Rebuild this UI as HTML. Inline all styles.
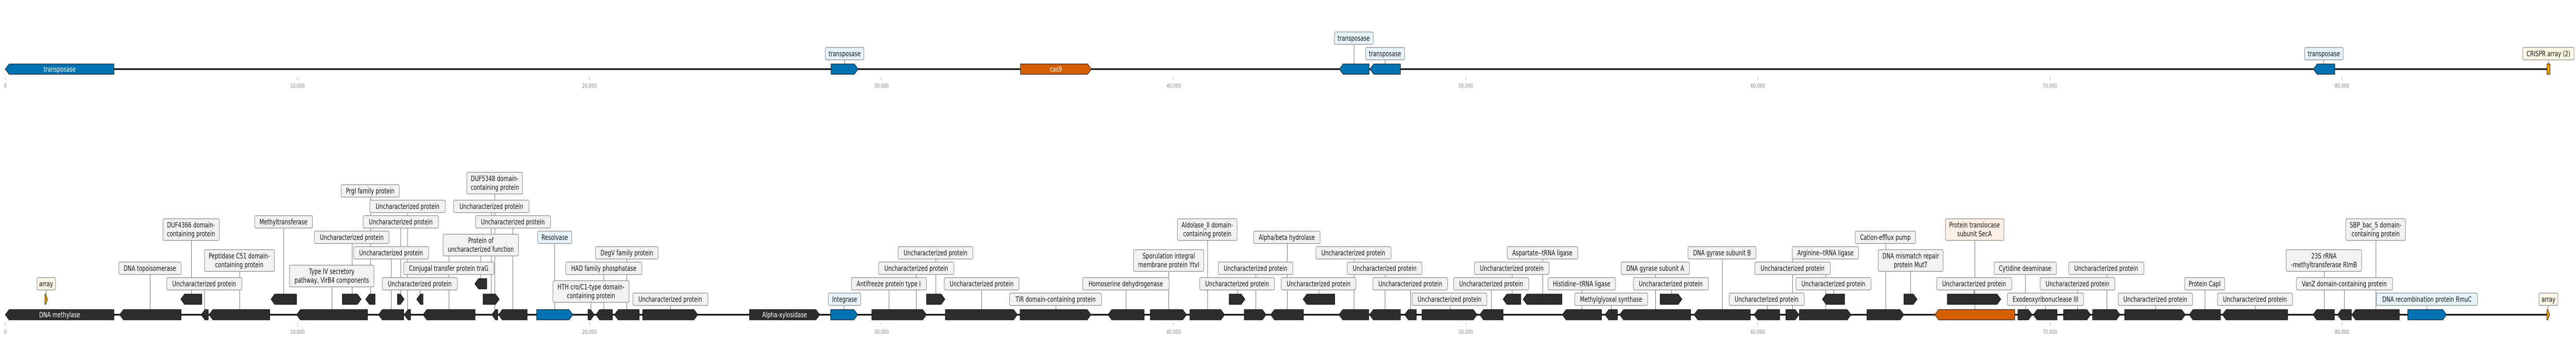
<!DOCTYPE html>
<html><head><meta charset="utf-8"><style>
html,body{margin:0;padding:0;background:#fff;width:100%;height:100%;overflow:hidden;}
svg{display:block;position:absolute;left:0;top:0;width:100vw;height:100vh;}
.g{fill:#2e2e2e;stroke:#000;stroke-width:1;}
.b{fill:#0072b2;stroke:#000;stroke-width:1;}
.o{fill:#d55e00;stroke:#000;stroke-width:1;}
.a{fill:#e69f00;stroke:#000;stroke-width:1;}
.bx{fill:#f2f2f2;stroke:#999;stroke-width:1.5;}
.lb{fill:#e6f5fc;stroke:#999;stroke-width:1.5;}
.cr{fill:#fdf7e6;stroke:#999;stroke-width:1.5;}
.pc{fill:#fdefe4;stroke:#999;stroke-width:1.5;}
text{font-family:"DejaVu Sans","Liberation Sans",sans-serif;}
.t{font-size:14px;fill:#111;text-anchor:middle;}
.w{font-size:14px;fill:#fff;text-anchor:middle;}
.ax{font-size:11px;fill:#888;text-anchor:middle;}
.ln{stroke:#444;stroke-width:1;fill:none;}
.tk{stroke:#888;stroke-width:1;}
</style></head><body>
<svg width="100%" height="100%" viewBox="0 0 6826 659" preserveAspectRatio="none" xmlns="http://www.w3.org/2000/svg" overflow="hidden">
<!-- TOP TRACK -->
<line x1="14" y1="134" x2="6757" y2="134" stroke="#000" stroke-width="3"/>
<g class="tk">
<line x1="14" y1="150" x2="14" y2="155"/><line x1="788" y1="150" x2="788" y2="155"/><line x1="1562" y1="150" x2="1562" y2="155"/><line x1="2336" y1="150" x2="2336" y2="155"/><line x1="3110" y1="150" x2="3110" y2="155"/><line x1="3884" y1="150" x2="3884" y2="155"/><line x1="4658" y1="150" x2="4658" y2="155"/><line x1="5432" y1="150" x2="5432" y2="155"/><line x1="6206" y1="150" x2="6206" y2="155"/>
</g>
<g class="ax">
<text x="14" y="170">0</text><text x="788" y="170">10,000</text><text x="1562" y="170">20,000</text><text x="2336" y="170">30,000</text><text x="3110" y="170">40,000</text><text x="3884" y="170">50,000</text><text x="4658" y="170">60,000</text><text x="5432" y="170">70,000</text><text x="6206" y="170">80,000</text>
</g>
<g class="ln"><path d="M2238 124V117M3588 124V86M3670 124V117M6158 124V117M6753 124V117"/></g>
<rect class="lb" x="2187" y="92" width="102" height="24" rx="3"/><text class="t" x="2238" y="109">transposase</text>
<rect class="lb" x="3536" y="62" width="103" height="24" rx="3"/><text class="t" x="3587" y="79">transposase</text>
<rect class="lb" x="3619" y="92" width="103" height="24" rx="3"/><text class="t" x="3670" y="109">transposase</text>
<rect class="lb" x="6107" y="92" width="102" height="24" rx="3"/><text class="t" x="6158" y="109">transposase</text>
<rect class="cr" x="6685" y="92" width="136" height="24" rx="3"/><text class="t" x="6753" y="109">CRISPR array (2)</text>
<polygon class="b" points="14,134 24,124 302,124 302,144 24,144"/><text class="w" x="158" y="139">transposase</text>
<polygon class="b" points="2202,124 2264,124 2274,134 2264,144 2202,144"/>
<polygon class="o" points="2704,124 2882,124 2892,134 2882,144 2704,144"/><text class="w" x="2798" y="139">cas9</text>
<polygon class="b" points="3549,134 3559,124 3628,124 3628,144 3559,144"/>
<polygon class="b" points="3630,134 3640,124 3711,124 3711,144 3640,144"/>
<polygon class="b" points="6130,134 6140,124 6187,124 6187,144 6140,144"/>
<rect class="a" x="6749" y="124" width="8" height="20"/>

<!-- BOTTOM TRACK -->
<line x1="14" y1="610" x2="6755" y2="610" stroke="#000" stroke-width="3"/>
<g class="tk">
<line x1="14" y1="625" x2="14" y2="630"/><line x1="788" y1="625" x2="788" y2="630"/><line x1="1562" y1="625" x2="1562" y2="630"/><line x1="2336" y1="625" x2="2336" y2="630"/><line x1="3110" y1="625" x2="3110" y2="630"/><line x1="3884" y1="625" x2="3884" y2="630"/><line x1="4658" y1="625" x2="4658" y2="630"/><line x1="5432" y1="625" x2="5432" y2="630"/><line x1="6206" y1="625" x2="6206" y2="630"/>
</g>
<g class="ax">
<text x="14" y="647">0</text><text x="788" y="647">10,000</text><text x="1562" y="647">20,000</text><text x="2336" y="647">30,000</text><text x="3110" y="647">40,000</text><text x="3884" y="647">50,000</text><text x="4658" y="647">60,000</text><text x="5432" y="647">70,000</text><text x="6206" y="647">80,000</text>
</g>
<g class="ln"><path d="M398 600V532M542 600V562M635 600V526M122 570V562M507 570V466M752 570V442M880 600V556M933 570V472M982 570V382M1037 600V502M1062 570V442M1080 600V412M1113 570V562M1190 600V496M1274 540V496M1302 570V412M1311 600V376M1359 600V442M1470 600V472M1566 600V586M1600 600V532M1661 600V502M1777 600V592M2237 600V592M2356 600V562M2428 600V532M2480 570V502M2601 600V562M2798 600V592M2984 600V562M3097 600V526M3200 600V466M3279 570V562M3328 600V532M3411 600V472M3495 570V562M3588 600V502M3670 600V532M3738 600V562M3843 600V592M3952 600V562M4007 570V532M4088 570V502M4192 600V562M4270 600V592M4387 600V532M4429 570V562M4564 600V502M4683 600V592M4750 600V502M4838 600V532M4859 570V562M4997 600V472M5063 570V526M5233 600V466M5231 570V562M5367 600V532M5420 600V592M5505 600V562M5583 600V532M5712 600V592M5843 600V562M5976 600V592M6159 600V526M6212 600V562M6296 600V466M6431 600V592M6752 600V592"/></g>

<!-- label boxes -->
<rect class="bx" x="315" y="508" width="165" height="24" rx="3"/><text class="t" x="397" y="525">DNA topoisomerase</text>
<rect class="bx" x="442" y="538" width="199" height="24" rx="3"/><text class="t" x="541" y="555">Uncharacterized protein</text>
<rect class="bx" x="542" y="484" width="185" height="42" rx="3"/><text class="t" x="634" y="501">Peptidase C51 domain-</text><text class="t" x="634" y="518">containing protein</text>
<rect class="cr" x="98" y="538" width="49" height="24" rx="3"/><text class="t" x="122" y="555">array</text>
<rect class="bx" x="432" y="424" width="149" height="42" rx="3"/><text class="t" x="506" y="441">DUF4366 domain-</text><text class="t" x="506" y="458">containing protein</text>
<rect class="bx" x="675" y="418" width="153" height="24" rx="3"/><text class="t" x="751" y="435">Methyltransferase</text>
<rect class="bx" x="767" y="514" width="224" height="42" rx="3"/><text class="t" x="879" y="531">Type IV secretory</text><text class="t" x="879" y="548">pathway, VirB4 components</text>
<rect class="bx" x="833" y="448" width="198" height="24" rx="3"/><text class="t" x="932" y="465">Uncharacterized protein</text>
<rect class="bx" x="904" y="358" width="154" height="24" rx="3"/><text class="t" x="981" y="375">PrgI family protein</text>
<rect class="bx" x="937" y="478" width="199" height="24" rx="3"/><text class="t" x="1036" y="495">Uncharacterized protein</text>
<rect class="bx" x="962" y="418" width="200" height="24" rx="3"/><text class="t" x="1062" y="435">Uncharacterized protein</text>
<rect class="bx" x="980" y="388" width="200" height="24" rx="3"/><text class="t" x="1080" y="405">Uncharacterized protein</text>
<rect class="bx" x="1013" y="538" width="199" height="24" rx="3"/><text class="t" x="1112" y="555">Uncharacterized protein</text>
<rect class="bx" x="1070" y="508" width="239" height="24" rx="3"/><text class="t" x="1189" y="525">Conjugal transfer protein traG</text>
<rect class="bx" x="1174" y="454" width="200" height="42" rx="3"/><text class="t" x="1274" y="471">Protein of</text><text class="t" x="1274" y="488">uncharacterized function</text>
<rect class="bx" x="1202" y="388" width="200" height="24" rx="3"/><text class="t" x="1302" y="405">Uncharacterized protein</text>
<rect class="bx" x="1237" y="334" width="148" height="42" rx="3"/><text class="t" x="1311" y="351">DUF5348 domain-</text><text class="t" x="1311" y="368">containing protein</text>
<rect class="bx" x="1260" y="418" width="199" height="24" rx="3"/><text class="t" x="1359" y="435">Uncharacterized protein</text>
<rect class="lb" x="1425" y="448" width="90" height="24" rx="3"/><text class="t" x="1470" y="465">Resolvase</text>
<rect class="bx" x="1465" y="544" width="202" height="42" rx="3"/><text class="t" x="1566" y="561">HTH cro/C1-type domain-</text><text class="t" x="1566" y="578">containing protein</text>
<rect class="bx" x="1499" y="508" width="202" height="24" rx="3"/><text class="t" x="1600" y="525">HAD family phosphatase</text>
<rect class="bx" x="1578" y="478" width="166" height="24" rx="3"/><text class="t" x="1661" y="495">DegV family protein</text>
<rect class="bx" x="1677" y="568" width="199" height="24" rx="3"/><text class="t" x="1776" y="585">Uncharacterized protein</text>
<rect class="lb" x="2195" y="568" width="86" height="24" rx="3"/><text class="t" x="2238" y="585">Integrase</text>
<rect class="bx" x="2256" y="538" width="199" height="24" rx="3"/><text class="t" x="2355" y="555">Antifreeze protein type I</text>
<rect class="bx" x="2328" y="508" width="200" height="24" rx="3"/><text class="t" x="2428" y="525">Uncharacterized protein</text>
<rect class="bx" x="2380" y="478" width="198" height="24" rx="3"/><text class="t" x="2479" y="495">Uncharacterized protein</text>
<rect class="bx" x="2502" y="538" width="198" height="24" rx="3"/><text class="t" x="2601" y="555">Uncharacterized protein</text>
<rect class="bx" x="2675" y="568" width="244" height="24" rx="3"/><text class="t" x="2797" y="585">TIR domain-containing protein</text>
<rect class="bx" x="2869" y="538" width="229" height="24" rx="3"/><text class="t" x="2983" y="555">Homoserine dehydrogenase</text>
<rect class="bx" x="3004" y="484" width="186" height="42" rx="3"/><text class="t" x="3097" y="501">Sporulation integral</text><text class="t" x="3097" y="518">membrane protein YtvI</text>
<rect class="bx" x="3120" y="424" width="158" height="42" rx="3"/><text class="t" x="3199" y="441">Aldolase_II domain-</text><text class="t" x="3199" y="458">containing protein</text>
<rect class="bx" x="3179" y="538" width="198" height="24" rx="3"/><text class="t" x="3278" y="555">Uncharacterized protein</text>
<rect class="bx" x="3228" y="508" width="198" height="24" rx="3"/><text class="t" x="3327" y="525">Uncharacterized protein</text>
<rect class="bx" x="3322" y="448" width="176" height="24" rx="3"/><text class="t" x="3410" y="465">Alpha/beta hydrolase</text>
<rect class="bx" x="3395" y="538" width="198" height="24" rx="3"/><text class="t" x="3494" y="555">Uncharacterized protein</text>
<rect class="bx" x="3487" y="478" width="199" height="24" rx="3"/><text class="t" x="3586" y="495">Uncharacterized protein</text>
<rect class="bx" x="3570" y="508" width="198" height="24" rx="3"/><text class="t" x="3669" y="525">Uncharacterized protein</text>
<rect class="bx" x="3638" y="538" width="198" height="24" rx="3"/><text class="t" x="3737" y="555">Uncharacterized protein</text>
<rect class="bx" x="3742" y="568" width="198" height="24" rx="3"/><text class="t" x="3841" y="585">Uncharacterized protein</text>
<rect class="bx" x="3852" y="538" width="199" height="24" rx="3"/><text class="t" x="3951" y="555">Uncharacterized protein</text>
<rect class="bx" x="3907" y="508" width="198" height="24" rx="3"/><text class="t" x="4006" y="525">Uncharacterized protein</text>
<rect class="bx" x="3994" y="478" width="187" height="24" rx="3"/><text class="t" x="4087" y="495">Aspartate--tRNA ligase</text>
<rect class="bx" x="4102" y="538" width="179" height="24" rx="3"/><text class="t" x="4191" y="555">Histidine--tRNA ligase</text>
<rect class="bx" x="4173" y="568" width="193" height="24" rx="3"/><text class="t" x="4269" y="585">Methylglyoxal synthase</text>
<rect class="bx" x="4296" y="508" width="181" height="24" rx="3"/><text class="t" x="4386" y="525">DNA gyrase subunit A</text>
<rect class="bx" x="4328" y="538" width="199" height="24" rx="3"/><text class="t" x="4427" y="555">Uncharacterized protein</text>
<rect class="bx" x="4473" y="478" width="180" height="24" rx="3"/><text class="t" x="4563" y="495">DNA gyrase subunit B</text>
<rect class="bx" x="4582" y="568" width="199" height="24" rx="3"/><text class="t" x="4681" y="585">Uncharacterized protein</text>
<rect class="bx" x="4749" y="478" width="176" height="24" rx="3"/><text class="t" x="4837" y="495">Arginine--tRNA ligase</text>
<rect class="bx" x="4650" y="508" width="200" height="24" rx="3"/><text class="t" x="4750" y="525">Uncharacterized protein</text>
<rect class="bx" x="4759" y="538" width="199" height="24" rx="3"/><text class="t" x="4858" y="555">Uncharacterized protein</text>
<rect class="bx" x="4916" y="448" width="160" height="24" rx="3"/><text class="t" x="4996" y="465">Cation-efflux pump</text>
<rect class="bx" x="4977" y="484" width="172" height="42" rx="3"/><text class="t" x="5063" y="501">DNA mismatch repair</text><text class="t" x="5063" y="518">protein MutT</text>
<rect class="pc" x="5155" y="424" width="155" height="42" rx="3"/><text class="t" x="5232" y="441">Protein translocase</text><text class="t" x="5232" y="458">subunit SecA</text>
<rect class="bx" x="5132" y="538" width="199" height="24" rx="3"/><text class="t" x="5231" y="555">Uncharacterized protein</text>
<rect class="bx" x="5284" y="508" width="165" height="24" rx="3"/><text class="t" x="5366" y="525">Cytidine deaminase</text>
<rect class="bx" x="5319" y="568" width="202" height="24" rx="3"/><text class="t" x="5420" y="585">Exodeoxyribonuclease III</text>
<rect class="bx" x="5406" y="538" width="198" height="24" rx="3"/><text class="t" x="5505" y="555">Uncharacterized protein</text>
<rect class="bx" x="5482" y="508" width="199" height="24" rx="3"/><text class="t" x="5581" y="525">Uncharacterized protein</text>
<rect class="bx" x="5613" y="568" width="197" height="24" rx="3"/><text class="t" x="5711" y="585">Uncharacterized protein</text>
<rect class="bx" x="5789" y="538" width="106" height="24" rx="3"/><text class="t" x="5842" y="555">Protein CapI</text>
<rect class="bx" x="5876" y="568" width="199" height="24" rx="3"/><text class="t" x="5975" y="585">Uncharacterized protein</text>
<rect class="bx" x="6058" y="484" width="200" height="42" rx="3"/><text class="t" x="6158" y="501">23S rRNA</text><text class="t" x="6158" y="518">-methyltransferase RlmB</text>
<rect class="bx" x="6085" y="538" width="255" height="24" rx="3"/><text class="t" x="6212" y="555">VanZ domain-containing protein</text>
<rect class="bx" x="6216" y="424" width="158" height="42" rx="3"/><text class="t" x="6295" y="441">SBP_bac_5 domain-</text><text class="t" x="6295" y="458">containing protein</text>
<rect class="lb" x="6297" y="568" width="268" height="24" rx="3"/><text class="t" x="6431" y="585">DNA recombination protein RmuC</text>
<rect class="cr" x="6728" y="568" width="50" height="24" rx="3"/><text class="t" x="6753" y="585">array</text>

<!-- genes lower row -->
<polygon class="g" points="14,610 24,600 302,600 302,620 24,620"/><text class="w" x="158" y="615">DNA methylase</text>
<polygon class="g" points="317,610 327,600 480,600 480,620 327,620"/>
<polygon class="g" points="533,610 543,600 552,600 552,620 543,620"/>
<polygon class="g" points="554,610 564,600 715,600 715,620 564,620"/>
<polygon class="g" points="786,610 796,600 974,600 974,620 796,620"/>
<polygon class="g" points="1003,610 1013,600 1070,600 1070,620 1013,620"/>
<polygon class="g" points="1071,610 1081,600 1088,600 1088,620 1081,620"/>
<polygon class="g" points="1121,610 1131,600 1259,600 1259,620 1131,620"/>
<polygon class="g" points="1303,610 1313,600 1319,600 1319,620 1313,620"/>
<polygon class="g" points="1321,610 1331,600 1397,600 1397,620 1331,620"/>
<polygon class="b" points="1422,600 1508,600 1518,610 1508,620 1422,620"/>
<polygon class="g" points="1558,600 1565,600 1575,610 1565,620 1558,620"/>
<polygon class="g" points="1579,610 1589,600 1623,600 1623,620 1589,620"/>
<polygon class="g" points="1628,610 1638,600 1694,600 1694,620 1638,620"/>
<polygon class="g" points="1703,600 1839,600 1849,610 1839,620 1703,620"/>
<polygon class="g" points="1986,600 2162,600 2172,610 2162,620 1986,620"/><text class="w" x="2079" y="615">Alpha-xylosidase</text>
<polygon class="b" points="2201,600 2263,600 2273,610 2263,620 2201,620"/>
<polygon class="g" points="2310,600 2445,600 2455,610 2445,620 2310,620"/>
<polygon class="g" points="2505,600 2686,600 2696,610 2686,620 2505,620"/>
<polygon class="g" points="2703,600 2881,600 2891,610 2881,620 2703,620"/>
<polygon class="g" points="2936,610 2946,600 3032,600 3032,620 2946,620"/>
<polygon class="g" points="3048,600 3134,600 3144,610 3134,620 3048,620"/>
<polygon class="g" points="3153,600 3235,600 3245,610 3235,620 3153,620"/>
<polygon class="g" points="3297,600 3345,600 3355,610 3345,620 3297,620"/>
<polygon class="g" points="3367,610 3377,600 3454,600 3454,620 3377,620"/>
<polygon class="g" points="3548,610 3558,600 3627,600 3627,620 3558,620"/>
<polygon class="g" points="3629,610 3639,600 3711,600 3711,620 3639,620"/>
<polygon class="g" points="3722,610 3732,600 3753,600 3753,620 3732,620"/>
<polygon class="g" points="3768,600 3904,600 3914,610 3904,620 3768,620"/>
<polygon class="g" points="3921,610 3931,600 3983,600 3983,620 3931,620"/>
<polygon class="g" points="4140,610 4150,600 4244,600 4244,620 4150,620"/>
<polygon class="g" points="4253,610 4263,600 4286,600 4286,620 4263,620"/>
<polygon class="g" points="4292,610 4302,600 4480,600 4480,620 4302,620"/>
<polygon class="g" points="4489,610 4499,600 4638,600 4638,620 4499,620"/>
<polygon class="g" points="4648,610 4658,600 4716,600 4716,620 4658,620"/>
<polygon class="g" points="4732,600 4757,600 4767,610 4757,620 4732,620"/>
<polygon class="g" points="4768,600 4895,600 4905,610 4895,620 4768,620"/>
<polygon class="g" points="4947,600 5035,600 5045,610 5035,620 4947,620"/>
<polygon class="o" points="5127,610 5137,600 5339,600 5339,620 5137,620"/>
<polygon class="g" points="5347,600 5375,600 5385,610 5375,620 5347,620"/>
<polygon class="g" points="5388,610 5398,600 5451,600 5451,620 5398,620"/>
<polygon class="g" points="5468,600 5530,600 5540,610 5530,620 5468,620"/>
<polygon class="g" points="5545,600 5608,600 5618,610 5608,620 5545,620"/>
<polygon class="g" points="5630,600 5781,600 5791,610 5781,620 5630,620"/>
<polygon class="g" points="5801,610 5811,600 5884,600 5884,620 5811,620"/>
<polygon class="g" points="5889,610 5899,600 6062,600 6062,620 5899,620"/>
<polygon class="g" points="6129,610 6139,600 6186,600 6186,620 6139,620"/>
<polygon class="g" points="6194,610 6204,600 6231,600 6231,620 6204,620"/>
<polygon class="g" points="6232,610 6242,600 6358,600 6358,620 6242,620"/>
<polygon class="b" points="6380,600 6473,600 6483,610 6473,620 6380,620"/>
<polygon class="a" points="6749,600 6751,600 6756,610 6751,620 6749,620"/>

<!-- genes upper row -->
<polygon class="a" points="119,570 121,570 126,580 121,590 119,590"/>
<polygon class="g" points="479,580 489,570 535,570 535,590 489,590"/>
<polygon class="g" points="718,580 728,570 786,570 786,590 728,590"/>
<polygon class="g" points="907,570 947,570 957,580 947,590 907,590"/>
<polygon class="g" points="969,580 979,570 994,570 994,590 979,590"/>
<polygon class="g" points="1053,570 1061,570 1071,580 1061,590 1053,590"/>
<polygon class="g" points="1104,580 1114,570 1121,570 1121,590 1114,590"/>
<polygon class="g" points="1280,570 1313,570 1323,580 1313,590 1280,590"/>
<polygon class="g" points="2455,570 2494,570 2504,580 2494,590 2455,590"/>
<polygon class="g" points="3257,570 3289,570 3299,580 3289,590 3257,590"/>
<polygon class="g" points="3453,580 3463,570 3537,570 3537,590 3463,590"/>
<polygon class="g" points="3983,580 3993,570 4030,570 4030,590 3993,590"/>
<polygon class="g" points="4036,580 4046,570 4139,570 4139,590 4046,590"/>
<polygon class="g" points="4399,570 4447,570 4457,580 4447,590 4399,590"/>
<polygon class="g" points="4829,580 4839,570 4888,570 4888,590 4839,590"/>
<polygon class="g" points="5045,570 5070,570 5080,580 5070,590 5045,590"/>
<polygon class="g" points="5160,570 5292,570 5302,580 5292,590 5160,590"/>
<!-- third level -->
<polygon class="g" points="1258,550 1268,540 1290,540 1290,560 1268,560"/>
</svg>
</body></html>
